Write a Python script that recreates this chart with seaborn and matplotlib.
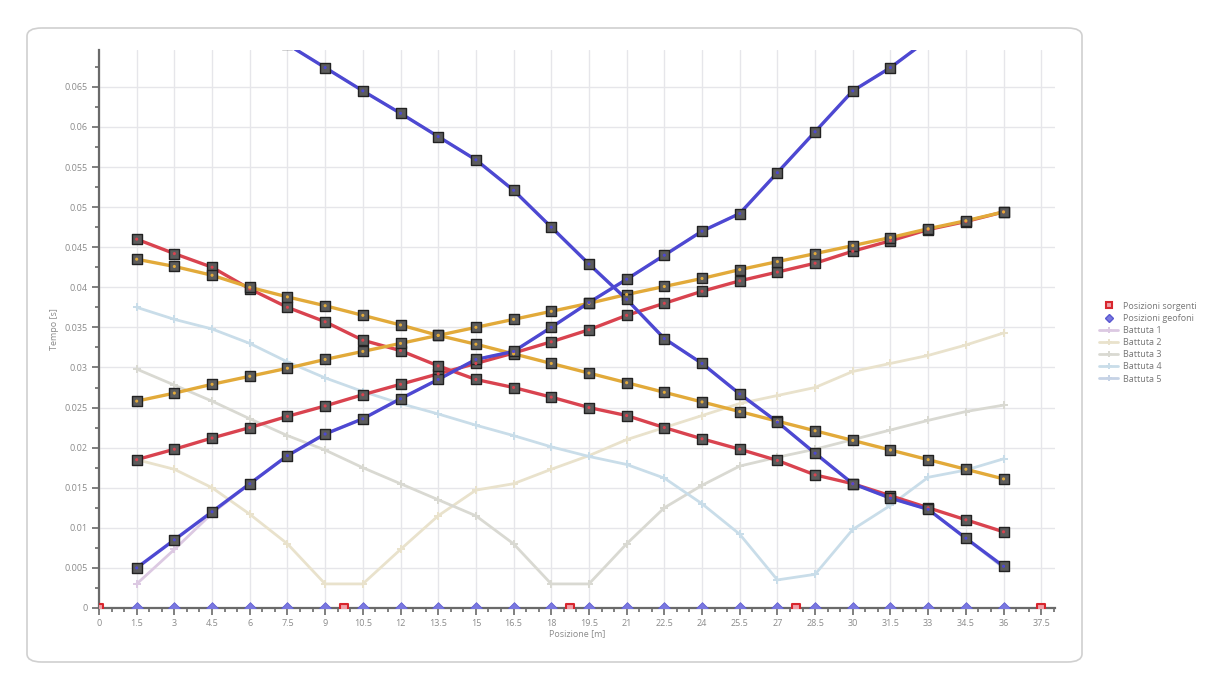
"""
Dromocrone: tempi di primo arrivo per le 5 battute
"""
import numpy as np
import pandas as pd
import matplotlib.pyplot as plt
import seaborn as sns
from matplotlib.lines import Line2D
from matplotlib.patches import FancyBboxPatch
from matplotlib.ticker import MultipleLocator, FuncFormatter

sns.set_style('whitegrid')
plt.rcParams['font.family'] = ['Open Sans', 'DejaVu Sans']

# --- data ---
geofoni = [1.5, 3, 4.5, 6, 7.5, 9, 10.5, 12, 13.5, 15, 16.5, 18,
           19.5, 21, 22.5, 24, 25.5, 27, 28.5, 30, 31.5, 33, 34.5, 36]
sorgenti = [0, 9.75, 18.75, 27.75, 37.5]

# battute (faint lines)
battuta_1 = [0.0030, 0.0073, 0.0118, 0.0155, 0.0190, 0.0217, 0.0236, 0.0261, 0.0285, 0.0310, 0.0320, 0.0350,
             0.0381, 0.0410, 0.0440, 0.0470, 0.0492, 0.0543, 0.0594, 0.0645, 0.0674, 0.0709, 0.0740, 0.0770]
battuta_2 = [0.0185, 0.0173, 0.0150, 0.0117, 0.0080, 0.0030, 0.0030, 0.0073, 0.0115, 0.0147, 0.0155, 0.0173,
             0.0190, 0.0210, 0.0225, 0.0240, 0.0255, 0.0265, 0.0275, 0.0295, 0.0305, 0.0315, 0.0328, 0.0343]
battuta_3 = [0.0298, 0.0278, 0.0258, 0.0236, 0.0215, 0.0197, 0.0175, 0.0155, 0.0135, 0.0115, 0.0080, 0.0030,
             0.0030, 0.0080, 0.0125, 0.0153, 0.0177, 0.0188, 0.0198, 0.0210, 0.0222, 0.0234, 0.0245, 0.0253]
battuta_4 = [0.0375, 0.0360, 0.0348, 0.0330, 0.0307, 0.0287, 0.0270, 0.0255, 0.0242, 0.0228, 0.0215, 0.0201,
             0.0189, 0.0179, 0.0162, 0.0130, 0.0092, 0.0035, 0.0042, 0.0098, 0.0128, 0.0163, 0.0172, 0.0186]
battuta_5 = [0.0820, 0.0790, 0.0760, 0.0732, 0.0703, 0.0674, 0.0645, 0.0617, 0.0588, 0.0559, 0.0521, 0.0475,
             0.0429, 0.0385, 0.0336, 0.0305, 0.0267, 0.0232, 0.0193, 0.0155, 0.0137, 0.0123, 0.0087, 0.0050]

# dromocrone interpretate (bold lines)
rosso_dx = [0.0185, 0.0198, 0.0212, 0.0225, 0.0239, 0.0252, 0.0266, 0.0279, 0.0292, 0.0305, 0.0318, 0.0332,
            0.0347, 0.0365, 0.0380, 0.0395, 0.0408, 0.0419, 0.0430, 0.0445, 0.0458, 0.0472, 0.0482, 0.0494]
rosso_sx = [0.0460, 0.0442, 0.0425, 0.0398, 0.0375, 0.0357, 0.0334, 0.0321, 0.0302, 0.0285, 0.0275, 0.0263,
            0.0250, 0.0240, 0.0225, 0.0211, 0.0198, 0.0184, 0.0166, 0.0155, 0.0140, 0.0125, 0.0110, 0.0095]
arancio_dx = [0.0258, 0.0268, 0.0279, 0.0289, 0.0299, 0.0310, 0.0320, 0.0330, 0.0340, 0.0350, 0.0360, 0.0370,
              0.0380, 0.0391, 0.0401, 0.0411, 0.0422, 0.0432, 0.0442, 0.0452, 0.0462, 0.0473, 0.0483, 0.0494]
arancio_sx = [0.0435, 0.0426, 0.0415, 0.0400, 0.0388, 0.0377, 0.0365, 0.0353, 0.0340, 0.0329, 0.0317, 0.0305,
              0.0293, 0.0281, 0.0269, 0.0257, 0.0245, 0.0233, 0.0221, 0.0209, 0.0197, 0.0185, 0.0173, 0.0161]
blu_dx = [0.0050, 0.0085, 0.0120, 0.0155, 0.0190, 0.0217, 0.0236, 0.0261, 0.0285, 0.0310, 0.0320, 0.0350,
          0.0381, 0.0410, 0.0440, 0.0470, 0.0492, 0.0543, 0.0594, 0.0645, 0.0674, 0.0709, 0.0740, 0.0770]
blu_sx = [0.0820, 0.0790, 0.0760, 0.0732, 0.0703, 0.0674, 0.0645, 0.0617, 0.0588, 0.0559, 0.0521, 0.0475,
          0.0429, 0.0385, 0.0336, 0.0305, 0.0267, 0.0232, 0.0193, 0.0155, 0.0137, 0.0123, 0.0087, 0.0052]

battute = [battuta_1, battuta_2, battuta_3, battuta_4, battuta_5]
nomi_battute = ['Battuta 1', 'Battuta 2', 'Battuta 3', 'Battuta 4', 'Battuta 5']
colori_battute = ['#dcc9e2', '#e9e2cc', '#d9d9d2', '#c9dde9', '#c6d3e6']

bold_series = [rosso_dx, rosso_sx, arancio_dx, arancio_sx, blu_dx, blu_sx]
bold_colors = ['#d9434f', '#d9434f', '#e2aa3a', '#e2aa3a', '#4d48d2', '#4d48d2']

# --- figure ---
fig = plt.figure(figsize=(12.19, 6.79), dpi=100)
ax = fig.add_axes([0.0812, 0.1046, 0.7843, 0.8218])

# frame around the chart
box = FancyBboxPatch((27 / 1219, 1 - 662 / 679), (1082 - 27) / 1219, (662 - 28) / 679,
                     boxstyle='round,pad=0,rounding_size=0.012', transform=fig.transFigure,
                     facecolor='none', edgecolor='#d0d0d0', lw=1.2, zorder=0)
fig.patches.append(box)

# faint battute
for vals, col in zip(battute, colori_battute):
    sns.lineplot(x=geofoni, y=vals, ax=ax, color=col, lw=2, marker='P', markersize=5.5,
                 markeredgewidth=0, sort=False, zorder=2)

# bold lines with square markers
for vals, col in zip(bold_series, bold_colors):
    sns.lineplot(x=geofoni, y=vals, ax=ax, color=col, lw=2.4, sort=False, zorder=3)
    sns.scatterplot(x=geofoni, y=vals, ax=ax, marker='s', s=48, color='#5c5c5c',
                    edgecolor='#222222', linewidth=1, zorder=4)
    sns.scatterplot(x=geofoni, y=vals, ax=ax, marker='o', s=5, color=col,
                    edgecolor='none', zorder=5)

# source and geophone positions on the axis
sns.scatterplot(x=sorgenti, y=[0] * len(sorgenti), ax=ax, marker='s', s=40,
                color='#f0a0a8', edgecolor='#d8262e', linewidth=1.5, zorder=6)
sns.scatterplot(x=geofoni, y=[0] * len(geofoni), ax=ax, marker='D', s=36,
                color='#7a78e0', edgecolor='#5a58d0', linewidth=0.5, zorder=6)

ax.set_xlim(0, 38.05)
ax.set_ylim(0, 0.0696)
ax.xaxis.set_major_locator(MultipleLocator(1.5))
ax.xaxis.set_minor_locator(MultipleLocator(0.5))
ax.yaxis.set_major_locator(MultipleLocator(0.005))
ax.yaxis.set_minor_locator(MultipleLocator(0.0025))
fmt = FuncFormatter(lambda v, p: '%g' % round(v, 4))
ax.xaxis.set_major_formatter(fmt)
ax.yaxis.set_major_formatter(fmt)

ax.grid(True, which='major', color='#e6e6ea', lw=1)
ax.grid(False, which='minor')
for s in ['top', 'right']:
    ax.spines[s].set_visible(False)
for s in ['left', 'bottom']:
    ax.spines[s].set_color('#6a6a6a')
    ax.spines[s].set_linewidth(1.6)
ax.tick_params(which='major', direction='out', length=5, width=1.2, color='#6a6a6a',
               labelsize=6.5, labelcolor='#8a8a8a', left=True, bottom=True, pad=3)
ax.tick_params(which='minor', direction='out', length=3, width=1.2, color='#6a6a6a',
               left=True, bottom=True)

ax.set_xlabel('Posizione [m]', fontsize=6.5, color='#8a8a8a', labelpad=1)
ax.set_ylabel('Tempo [s]', fontsize=6.5, color='#8a8a8a', labelpad=4)

# legend outside the frame
handles = [
    Line2D([], [], ls='none', marker='s', markersize=5, markerfacecolor='#f0a0a8',
           markeredgecolor='#d8262e', markeredgewidth=1.5),
    Line2D([], [], ls='none', marker='D', markersize=4, markerfacecolor='#7a78e0',
           markeredgecolor='#5a58d0'),
]
for col in colori_battute:
    handles.append(Line2D([], [], color=col, lw=2, marker='P', markersize=5, markeredgewidth=0))
labels = ['Posizioni sorgenti', 'Posizioni geofoni'] + nomi_battute
fig.legend(handles, labels, loc='upper left', bbox_to_anchor=(1095 / 1219, 1 - 298 / 679),
           frameon=False, fontsize=6.5, handlelength=2.2, handletextpad=0.5,
           labelspacing=0.35, borderaxespad=0, labelcolor='#777777')

plt.savefig('out.png', dpi=100)
